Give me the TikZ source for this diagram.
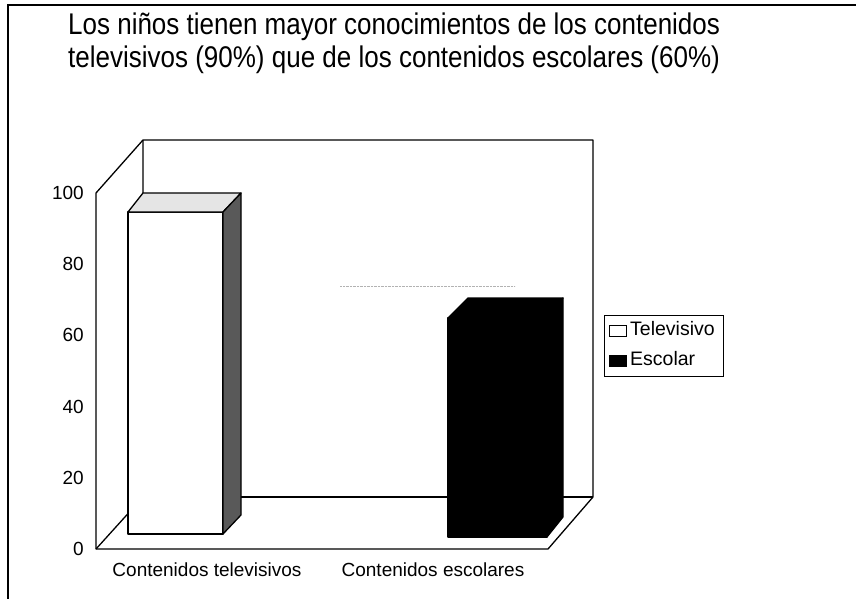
\documentclass[tikz,border=0pt]{standalone}
\usepackage{fontspec}
\setmainfont{Liberation Sans}
\usepackage{tikz}
\usetikzlibrary{positioning}

\begin{document}
\begin{tikzpicture}[x=1pt, y=-1pt,
    wall/.style={line width=1.3pt, line join=round},
    barface/.style={draw, line width=1.3pt, line join=round},
    titlelab/.style={anchor=base west, inner sep=0pt, font=\fontsize{26}{30}\selectfont},
    ylab/.style={anchor=east, inner sep=0pt, font=\fontsize{19}{21}\selectfont},
    catlab/.style={inner sep=0pt, font=\fontsize{19}{21}\selectfont},
    legitem/.style={inner sep=0pt, font=\fontsize{19.5}{21}\selectfont},
    swatch/.style={draw, line width=1pt, minimum width=17pt, minimum height=11pt, inner sep=0pt}
  ]
    \useasboundingbox (0,0) rectangle (856,599);
    % frame
    \draw[line width=1.3pt] (8,599) -- (8,5) -- (856,5);

    % title
    \node[titlelab] (title1) at (68,35)
      {\scalebox{1}[1.15]{Los niños tienen mayor conocimientos de los contenidos}};
    \node[titlelab] (title2) at (68,68)
      {\scalebox{1}[1.15]{televisivos (90\%) que de los contenidos escolares (60\%)}};

    % walls and floor
    \draw[wall] (96,549) -- (96,193) -- (143,140) -- (593,140) -- (593,497) -- (548,549) -- cycle;
    \draw[wall] (96,549) -- (143,497) -- (143,140);
    \draw[wall] (143,497) -- (593,497);
    \draw[gray!60, densely dotted] (340,286) -- (515,286);

    % axis values
    \foreach \v in {0,20,...,100}
      \node[ylab] (y\v) at (84,{549-3.56*\v}) {\v};

    % bar Televisivo
    \draw[barface, fill=white] (128,212) rectangle (223,534);
    \draw[barface, fill=gray!20] (128,212) -- (143,193) -- (241,193) -- (223,212) -- cycle;
    \draw[barface, fill=black!65] (223,212) -- (241,193) -- (241,515) -- (223,534) -- cycle;

    % bar Escolar
    \draw[barface, fill=black] (448,318) rectangle (547,537);
    \draw[barface, fill=black] (448,318) -- (468,298) -- (563,298) -- (547,318) -- cycle;
    \draw[barface, fill=black] (547,318) -- (563,298) -- (563,517) -- (547,537) -- cycle;

    % categories
    \node[catlab] (cattv) at (207,570) {Contenidos televisivos};
    \node[catlab] (catesc) at (433,570) {Contenidos escolares};

    % legend
    \draw[line width=1pt] (604,315) rectangle (723,376);
    \node[swatch, fill=white] (swtv) at (618,331) {};
    \node[swatch, fill=black] (swesc) at (618,361) {};
    \node[legitem, right=3pt of swtv, yshift=2pt] (labtv) {Televisivo};
    \node[legitem, right=3pt of swesc, yshift=2pt] (labesc) {Escolar};
  \end{tikzpicture}
\end{document}
